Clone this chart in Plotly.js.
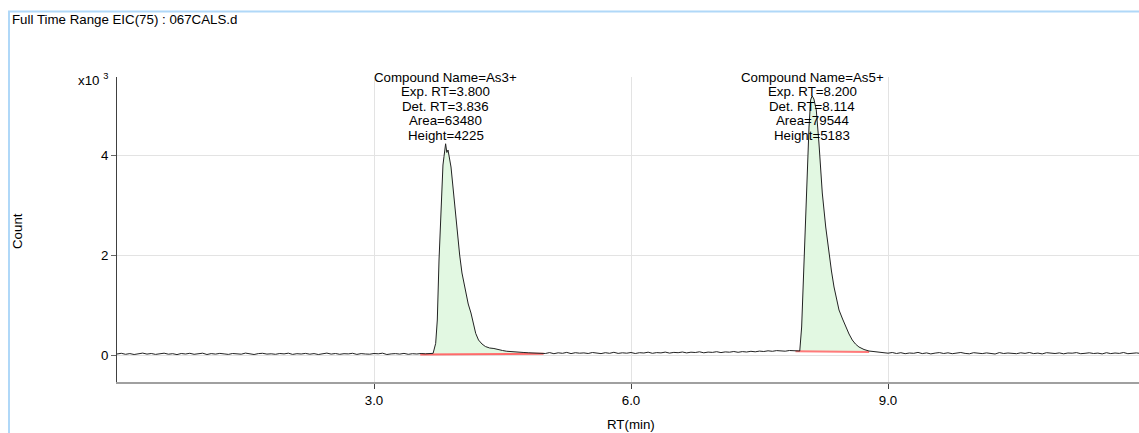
<!DOCTYPE html>
<html><head><meta charset="utf-8">
<script src="https://cdn.plot.ly/plotly-3.0.1.min.js"></script>
<style>html,body{margin:0;padding:0;background:#fff;overflow:hidden}#chart{width:1139px;height:433px}</style>
</head><body><div id="chart"></div>
<script>
// ---------- data (RT in min, counts) ----------
const rtBaseA = [0.00,0.05,0.10,0.15,0.20,0.25,0.30,0.35,0.40,0.45,
 0.50,0.55,0.60,0.65,0.70,0.75,0.80,0.85,0.90,0.95,
 1.00,1.05,1.10,1.15,1.20,1.25,1.30,1.35,1.40,1.45,
 1.50,1.55,1.60,1.65,1.70,1.75,1.80,1.85,1.90,1.95,
 2.00,2.05,2.10,2.15,2.20,2.25,2.30,2.35,2.40,2.45,
 2.50,2.55,2.60,2.65,2.70,2.75,2.80,2.85,2.90,2.95,
 3.00,3.05,3.10,3.15,3.20,3.25,3.30,3.35,3.40,3.45,
 3.50,3.55,3.60,3.65];
const cntBaseA = [20,34,14,28,10,26,38,18,30,12,
 22,36,16,26,8,30,20,34,14,24,
 36,10,28,18,32,22,12,30,26,16,
 38,20,10,28,34,18,24,14,30,22,
 36,12,26,20,32,16,28,10,24,38,
 18,30,14,26,22,34,12,28,20,16,
 30,24,36,10,22,28,18,32,14,26,
 20,30,24,28];

const rtPeak1 = [3.69,3.72,3.739,3.759,3.786,3.805,3.817,3.836,3.85,3.864,3.899,3.934,3.969,4.00,4.027,4.05,4.074,4.10,4.132,4.16,4.187,4.22,4.261,4.30,4.35,4.40,4.45,4.50,4.55,4.60,4.65,4.70,4.75,4.80,4.85,4.90];
const cntPeak1 = [33,233,700,1900,3233,3800,3967,4225,4050,4100,3760,3100,2440,2000,1640,1420,1240,1020,840,620,433,300,220,170,140,130,105,90,75,65,70,55,50,45,40,35];

const rtBaseB = [4.95,5.00,5.05,5.10,5.15,5.20,5.25,5.30,5.35,5.40,
 5.45,5.50,5.55,5.60,5.65,5.70,5.75,5.80,5.85,5.90,
 5.95,6.00,6.05,6.10,6.15,6.20,6.25,6.30,6.35,6.40,
 6.45,6.50,6.55,6.60,6.65,6.70,6.75,6.80,6.85,6.90,
 6.95,7.00,7.05,7.10,7.15,7.20,7.25,7.30,7.35,7.40,
 7.45,7.50,7.55,7.60,7.65,7.70,7.75,7.80,7.85,7.90,
 7.95];
const cntBaseB = [40,30,48,26,44,34,52,28,46,36,
 42,30,50,38,28,46,34,54,32,44,
 36,50,30,46,40,56,34,48,42,58,
 38,52,46,60,42,56,50,64,44,58,
 52,66,48,62,56,70,54,68,60,74,
 64,78,70,84,74,88,80,76,90,82,
 78];

const rtPeak2 = [7.97,7.992,8.005,8.019,8.032,8.046,8.062,8.078,8.097,8.114,8.135,8.163,8.194,8.233,8.273,8.311,8.34,8.370,8.40,8.428,8.47,8.506,8.545,8.583,8.62,8.661,8.72,8.778,8.84,8.90];
const cntPeak2 = [80,560,1200,1900,2600,3240,3900,4560,5100,5183,5120,4900,4240,3240,2560,2040,1680,1360,1100,900,720,560,420,300,220,160,110,80,70,60];

const rtBaseC = [8.95,9.00,9.05,9.10,9.15,9.20,9.25,9.30,9.35,9.40,
 9.45,9.50,9.55,9.60,9.65,9.70,9.75,9.80,9.85,9.90,
 9.95,10.00,10.05,10.10,10.15,10.20,10.25,10.30,10.35,10.40,
 10.45,10.50,10.55,10.60,10.65,10.70,10.75,10.80,10.85,10.90,
 10.95,11.00,11.05,11.10,11.15,11.20,11.25,11.30,11.35,11.40,
 11.45,11.50,11.55,11.60,11.65,11.70,11.75,11.80,11.85,11.90,
 11.95];
const cntBaseC = [44,36,50,30,46,26,40,34,52,28,
 42,22,38,48,30,44,26,36,50,32,
 24,46,38,28,42,34,20,48,30,40,
 36,26,44,32,50,28,38,22,46,34,
 30,42,24,40,36,48,26,34,44,30,
 38,22,46,28,40,32,50,26,36,42,
 30];

// integration baselines (red)
const baseline1Rt = [3.54, 3.96, 4.98];
const baseline1Cnt = [10, 10, 25];
const baseline2Rt = [7.92, 8.78];
const baseline2Cnt = [75, 60];

// peak labels
const peakNames = ["As3+", "As5+"];
const expRT = ["3.800", "8.200"];
const detRT = [3.836, 8.114];
const detRTText = ["3.836", "8.114"];
const areas = [63480, 79544];
const heights = [4225, 5183];

const xTickVals = [3, 6, 9];
const xTickText = ["3.0", "6.0", "9.0"];
const yTickVals = [0, 2000, 4000];
const yTickText = ["0", "2", "4"];

// ---------- build ----------
const rtAll = [].concat(rtBaseA, rtPeak1, rtBaseB, rtPeak2, rtBaseC);
const cntAll = [].concat(cntBaseA, cntPeak1, cntBaseB, cntPeak2, cntBaseC);

function fillPoly(rts, cnts, b0, b1) {
  const xs = rts.slice(), ys = cnts.slice();
  xs.push(rts[rts.length-1], rts[0]);
  ys.push(b1, b0);
  return {x: xs, y: ys};
}
const f1 = fillPoly(rtPeak1, cntPeak1, baseline1Cnt[0], baseline1Cnt[baseline1Cnt.length-1]);
const f2 = fillPoly(rtPeak2, cntPeak2, baseline2Cnt[0], baseline2Cnt[baseline2Cnt.length-1]);

const FONT = "Liberation Sans, Arial, sans-serif";
const FS = 13.3;
const L = 117, R = 0, T = 77, B = 51, W = 1139, H = 433;
const PW = W - L - R, PH = H - T - B;
const px = v => (v - L) / PW;
const py = v => (H - B - v) / PH;

const traces = [
  {x: f1.x, y: f1.y, type: "scatter", mode: "lines", fill: "toself", fillcolor: "#e2f8e2", line: {width: 0}, hoverinfo: "skip"},
  {x: f2.x, y: f2.y, type: "scatter", mode: "lines", fill: "toself", fillcolor: "#e2f8e2", line: {width: 0}, hoverinfo: "skip"},
  {x: baseline1Rt, y: baseline1Cnt, type: "scatter", mode: "lines", line: {color: "#ff6a6a", width: 2}},
  {x: baseline2Rt, y: baseline2Cnt, type: "scatter", mode: "lines", line: {color: "#ff7a7a", width: 2}},
  {x: rtAll, y: cntAll, type: "scatter", mode: "lines", line: {color: "#222222", width: 1}}
];

const annotations = [];
const lineY = [77, 91.5, 106, 120.5, 135];
for (let i = 0; i < 2; i++) {
  const lines = ["Compound Name=" + peakNames[i], "Exp. RT=" + expRT[i], "Det. RT=" + detRTText[i],
                 "Area=" + areas[i], "Height=" + heights[i]];
  lines.forEach((t, k) => annotations.push({
    text: t, x: detRT[i], xref: "x", y: py(lineY[k]), yref: "paper",
    xanchor: "center", yanchor: "middle", showarrow: false,
    font: {family: FONT, size: FS, color: "#000"}
  }));
}
annotations.push({text: "x10 <sup>3</sup>", x: px(110), xref: "paper", y: py(79), yref: "paper",
  xanchor: "right", yanchor: "middle", showarrow: false, font: {family: FONT, size: FS, color: "#000"}});
annotations.push({text: "Count", x: px(18), xref: "paper", y: py(231), yref: "paper", textangle: -90,
  xanchor: "center", yanchor: "middle", showarrow: false, font: {family: FONT, size: FS, color: "#000"}});
annotations.push({text: "RT(min)", x: 6, xref: "x", y: py(424), yref: "paper",
  xanchor: "center", yanchor: "middle", showarrow: false, font: {family: FONT, size: FS, color: "#000"}});

const layout = {
  width: W, height: H,
  margin: {l: L, r: R, t: T, b: B, pad: 0},
  paper_bgcolor: "#ffffff", plot_bgcolor: "#ffffff",
  showlegend: false,
  title: {text: "Full Time Range EIC(75) : 067CALS.d", x: 12 / W, xref: "container", xanchor: "left",
          y: 1 - 19 / H, yref: "container", yanchor: "middle", font: {family: FONT, size: FS, color: "#000"}},
  xaxis: {range: [0, 11.93], tickvals: xTickVals, ticktext: xTickText, showgrid: true, gridcolor: "#e3e3e3",
          gridwidth: 1, zeroline: false, showline: true, linecolor: "#a0a0a0", linewidth: 2,
          ticks: "outside", ticklen: 5, tickcolor: "#444", tickfont: {family: FONT, size: FS, color: "#000"},
          fixedrange: true},
  yaxis: {range: [-540, 5560], tickvals: yTickVals, ticktext: yTickText, showgrid: true, gridcolor: "#e3e3e3",
          gridwidth: 1, zeroline: false, showline: true, linecolor: "#404040", linewidth: 1,
          ticks: "outside", ticklen: 5, tickcolor: "#666", tickfont: {family: FONT, size: FS, color: "#000"},
          fixedrange: true},
  annotations: annotations,
  shapes: [
    {type: "line", xref: "paper", yref: "paper", x0: px(9), x1: px(9), y0: py(440), y1: py(11),
     line: {color: "#b0d8f8", width: 2}},
    {type: "line", xref: "paper", yref: "paper", x0: px(8), x1: px(1145), y0: py(11.5), y1: py(11.5),
     line: {color: "#b0d8f8", width: 2}}
  ]
};

Plotly.newPlot("chart", traces, layout, {staticPlot: true, displayModeBar: false});
</script>
</body></html>
